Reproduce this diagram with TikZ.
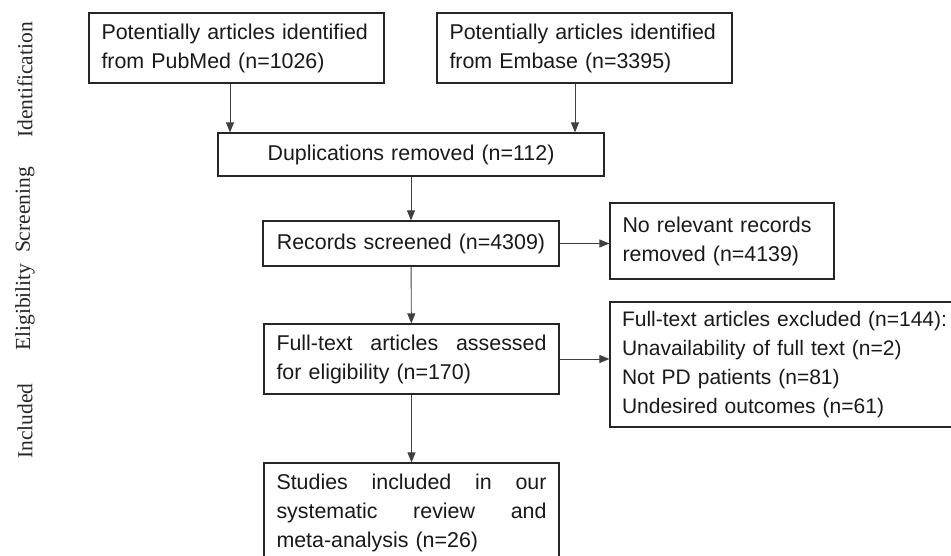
\documentclass[tikz,border=0pt]{standalone}
\usepackage{fontspec}
\setmainfont{Liberation Sans}
\newfontfamily\stagefont{Liberation Serif}
\usetikzlibrary{arrows.meta}
\begin{document}
\begin{tikzpicture}[x=1pt,y=-1pt]
\tikzstyle{box} = [draw=black!85,line width=1.2pt,text=black!90,inner xsep=12.5pt,inner ysep=0pt,font=\fontsize{21.4}{29}\selectfont]
\tikzstyle{flow} = [-{Triangle[length=10pt,width=8pt]},line width=0.9pt,black!75]
\tikzstyle{stage} = [rotate=90,text=black!85,font=\stagefont\fontsize{21.5}{24}\selectfont]

\useasboundingbox (0,0) rectangle (951,556);

% stage names on the left
\node (ident) at (25,80) [stage] {Identification};
\node (screen) at (25,210) [stage] {Screening};
\node (elig) at (25,307) [stage] {Eligibility};
\node (incl) at (25,421) [stage] {Included};

% boxes
\node (pubmed) at (236.5,48) [box,text width=270pt,minimum height=70pt,align=left] {Potentially articles identified\\from PubMed (n=1026)};
\node (embase) at (584.5,48) [box,text width=270pt,minimum height=70pt,align=left] {Potentially articles identified\\from Embase (n=3395)};
\node (dup) at (411,154.5) [box,text width=361pt,minimum height=43pt,align=center] {Duplications removed (n=112)};
\node (screened) at (411,243.5) [box,text width=271pt,minimum height=45pt,align=center] {Records screened (n=4309)};
\node (norel) at (722,241) [box,text width=199pt,minimum height=76pt,align=left] {No relevant records\\removed (n=4139)};
\node (fulltext) at (411.5,359) [box,text width=270pt,minimum height=70pt,align=left] {Full-text\hfill articles\hfill assessed\\for eligibility (n=170)};
\node (excluded) at (794,364.5) [box,inner xsep=12pt,text width=344pt,minimum height=125pt,align=left,font=\fontsize{21}{29}\selectfont] {Full-text articles excluded (n=144):\\Unavailability of full text (n=2)\\Not PD patients (n=81)\\Undesired outcomes (n=61)};
\node (studies) at (411.5,513) [box,text width=270pt,minimum height=100pt,align=left] {Studies\hfill included\hfill in\hfill our\\systematic\hfill review\hfill and\\meta-analysis (n=26)};

% arrows
\draw [flow] (pubmed.south) ++(-6.5,0) coordinate (pm) -- (pm |- dup.north);
\draw [flow] (embase.south) ++(-9.5,0) coordinate (em) -- (em |- dup.north);
\draw [flow] (dup) -- (screened);
\draw [flow] (screened) -- (fulltext);
\draw [flow] (fulltext) -- (studies);
\draw [flow] (screened.east) -- (screened.east -| norel.west);
\draw [flow] (fulltext.east) -- (fulltext.east -| excluded.west);
\end{tikzpicture}
\end{document}
